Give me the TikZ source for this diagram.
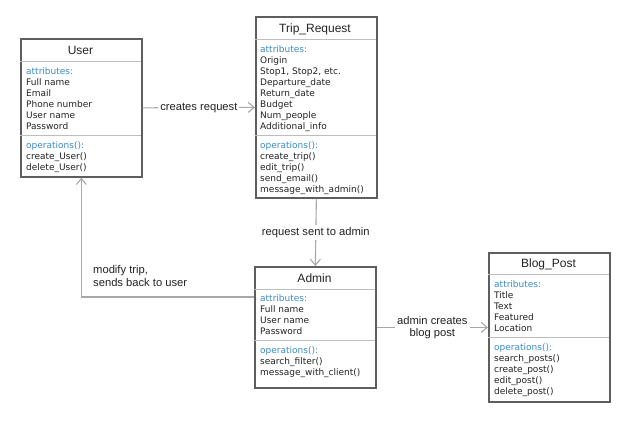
\documentclass[tikz,border=0pt]{standalone}
\usepackage{fontspec}
\setmainfont{Liberation Sans}
\newfontfamily\bodyfont{DejaVu Sans}
\usetikzlibrary{arrows.meta}
\definecolor{boxgray}{HTML}{5E5E5E}
\definecolor{divgray}{HTML}{BDBDBD}
\definecolor{conngray}{HTML}{A8A8A8}
\definecolor{attrblue}{HTML}{3B8AC9}
\definecolor{txtgray}{HTML}{222222}
\newcommand{\attrhead}{\textcolor{attrblue}{attributes:}}
\newcommand{\opshead}{\textcolor{attrblue}{operations():}}
\tikzset{
  classbox/.style={draw=boxgray,line width=1.7pt,minimum width=121pt,anchor=north west,inner sep=0pt},
  divider/.style={draw=divgray,line width=1pt},
  classtitle/.style={font=\fontsize{12}{14}\selectfont,text=txtgray},
  members/.style={anchor=north west,align=left,inner sep=0pt,text=txtgray,font=\bodyfont\fontsize{9}{11}\selectfont},
  conn/.style={draw=conngray,line width=1.1pt,-{Straight Barb[length=6pt,width=10pt]}},
  lbl/.style={fill=white,inner sep=2pt,text=txtgray,font=\fontsize{11.2}{12.5}\selectfont}
}

\begin{document}
\begin{tikzpicture}[x=1pt,y=-1pt]
\useasboundingbox (0,0) rectangle (640,426);

\node[classbox,minimum height=138] (user) at (20,38) {};
\node[classtitle] (usertitle) at (80.5,50) {User};
\draw[divider] (20,61) -- (141,61);
\draw[divider] (20,135) -- (141,135);
\node[members] (userattr) at (26,67) {\attrhead\\Full name\\Email\\Phone number\\User name\\Password};
\node[members] (userops) at (26,141) {\opshead\\create\_User()\\delete\_User()};

\node[classbox,minimum height=181] (trip) at (255,16) {};
\node[classtitle] (triptitle) at (315,29) {Trip\_Request};
\draw[divider] (255,39) -- (376,39);
\draw[divider] (255,135) -- (376,135);
\node[members] (tripattr) at (260,45) {\attrhead\\Origin\\Stop1, Stop2, etc.\\Departure\_date\\Return\_date\\Budget\\Num\_people\\Additional\_info};
\node[members] (tripops) at (260,141) {\opshead\\create\_trip()\\edit\_trip()\\send\_email()\\message\_with\_admin()};

\node[classbox,minimum height=121] (admin) at (254,266) {};
\node[classtitle] (admintitle) at (314.5,278) {Admin};
\draw[divider] (254,289) -- (375,289);
\draw[divider] (254,340) -- (375,340);
\node[members] (adminattr) at (260,294) {\attrhead\\Full name\\User name\\Password};
\node[members] (adminops) at (260,346) {\opshead\\search\_filter()\\message\_with\_client()};

\node[classbox,minimum height=149] (blog) at (488,252) {};
\node[classtitle] (blogtitle) at (548.5,264) {Blog\_Post};
\draw[divider] (488,274) -- (609,274);
\draw[divider] (488,337) -- (609,337);
\node[members] (blogattr) at (494,280) {\attrhead\\Title\\Text\\Featured\\Location};
\node[members] (blogops) at (494,343) {\opshead\\search\_posts()\\create\_post()\\edit\_post()\\delete\_post()};

\draw[conn] (user.east) -- node[lbl] {creates request} (trip.west);
\draw[conn] (trip.south) -- node[lbl] {request sent to admin} (admin.north);
\draw[conn] (admin.west |- 0,297) -| (user.south);
\node[lbl,anchor=west,align=left,fill=none] (modlbl) at (91,276) {modify trip,\\sends back to user};
\draw[conn] (admin.east) -- node[lbl,align=center] {admin creates\\blog post} (blog.west);
\end{tikzpicture}
\end{document}
